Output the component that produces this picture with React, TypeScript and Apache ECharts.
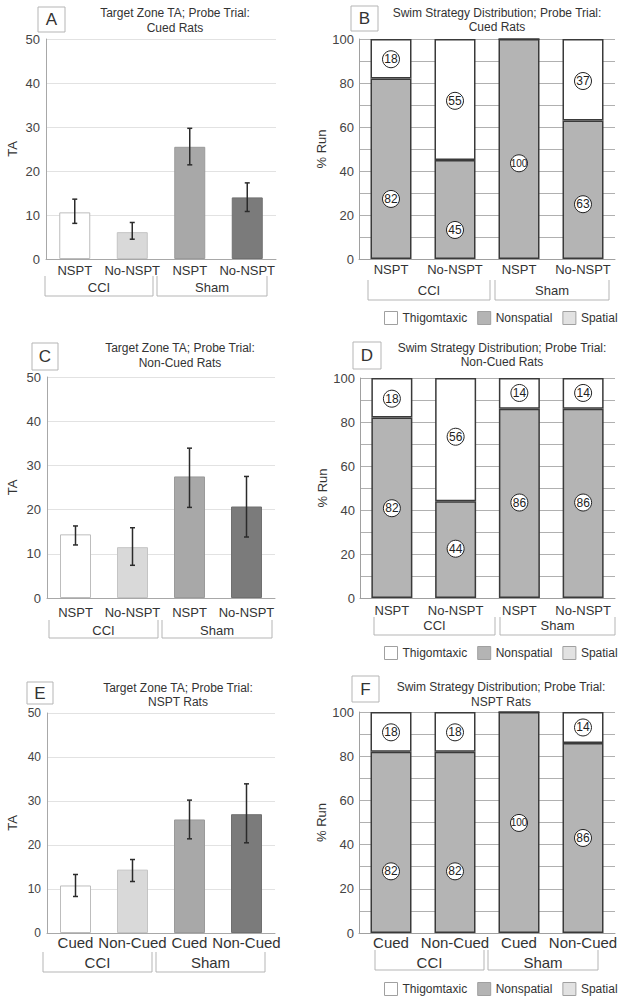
import React, { useEffect, useRef } from 'react';
import * as echarts from 'echarts';

const FONT = '"Liberation Sans", Arial, Helvetica, sans-serif';

// ---------- categories ----------
const catsNSPT = ['NSPT', 'No-NSPT', 'NSPT', 'No-NSPT'];
const catsCued = ['Cued', 'Non-Cued', 'Cued', 'Non-Cued'];
const groupNames = ['CCI', 'Sham'];
const legendNames = ['Thigomtaxic', 'Nonspatial', 'Spatial'];

// ---------- Target Zone TA (mean, lower and upper error) ----------
const aMean = [10.6, 6.1, 25.5, 14.0];
const aLow = [8.1, 4.5, 21.4, 10.8];
const aHigh = [13.6, 8.3, 29.7, 17.3];

const cMean = [14.4, 11.5, 27.5, 20.7];
const cLow = [12.0, 7.4, 20.5, 13.8];
const cHigh = [16.3, 15.9, 33.9, 27.5];

const eMean = [10.8, 14.4, 25.8, 27.0];
const eLow = [8.3, 11.7, 21.4, 20.5];
const eHigh = [13.3, 16.7, 30.2, 33.9];

// ---------- Swim strategy distribution (% run) ----------
const bNonspatial = [82, 45, 100, 63];
const bThigmo = [18, 55, 0, 37];
const bSpatial = [0, 0, 0, 0];
const bNonspatialLabelY = [27.3, 13.2, 43.5, 24.9];
const bThigmoLabelY = [90.8, 71.9, null, 80.9];

const dNonspatial = [82, 44, 86, 86];
const dThigmo = [18, 56, 14, 14];
const dSpatial = [0, 0, 0, 0];
const dNonspatialLabelY = [40.8, 22.4, 43.4, 43.4];
const dThigmoLabelY = [90.6, 73.3, 93.2, 93.2];

const fNonspatial = [82, 82, 100, 86];
const fThigmo = [18, 18, 0, 14];
const fSpatial = [0, 0, 0, 0];
const fNonspatialLabelY = [27.9, 27.9, 49.8, 43.0];
const fThigmoLabelY = [90.8, 90.8, null, 93.0];

// ---------- styles ----------
const taColors = ['#ffffff', '#d9d9d9', '#a8a8a8', '#7b7b7b'];
const taBorders = ['#bdbdbd', '#c4c4c4', '#9a9a9a', '#707070'];
const thigColor = '#ffffff';
const nonspColor = '#b4b4b4';
const spatialColor = '#e2e2e2';

type Layout = {
  letter: string;
  title1: string;
  title2: string;
  grid: { left: number; top: number; width: number; height: number };
  box: [number, number, number, number];
  titleX: number;
  titleY: [number, number];
  labelMargin: number;
  labelSize: number;
  yLabelSize: number;
  nameGap: number;
  brackets: [number, number][];
  bracketY: [number, number];
  groupLabelY: number;
  groupSize: number;
  legendTop?: number;
};

const layoutA: Layout = {
  letter: 'A', title1: 'Target Zone TA; Probe Trial:', title2: 'Cued Rats',
  grid: { left: 46, top: 39, width: 230, height: 220 },
  box: [38, 7, 27, 25], titleX: 175, titleY: [13, 28],
  labelMargin: 5, labelSize: 13, yLabelSize: 13, nameGap: 27,
  brackets: [[45, 153], [157, 267]], bracketY: [276, 296], groupLabelY: 287, groupSize: 13,
};
const layoutB: Layout = {
  letter: 'B', title1: 'Swim Strategy Distribution; Probe Trial:', title2: 'Cued Rats',
  grid: { left: 359, top: 39, width: 256, height: 220 },
  box: [351, 6, 27, 25], titleX: 497, titleY: [13, 27],
  labelMargin: 4, labelSize: 13, yLabelSize: 12, nameGap: 20,
  brackets: [[368, 490], [495, 609]], bracketY: [280, 300], groupLabelY: 290, groupSize: 13,
  legendTop: 311,
};
const layoutC: Layout = {
  letter: 'C', title1: 'Target Zone TA; Probe Trial:', title2: 'Non-Cued Rats',
  grid: { left: 47, top: 377, width: 228, height: 221 },
  box: [32, 343, 26, 27], titleX: 180, titleY: [348, 363],
  labelMargin: 8, labelSize: 13, yLabelSize: 13, nameGap: 28,
  brackets: [[49, 158], [162, 272]], bracketY: [620, 638], groupLabelY: 630, groupSize: 13,
};
const layoutD: Layout = {
  letter: 'D', title1: 'Swim Strategy Distribution; Probe Trial:', title2: 'Non-Cued Rats',
  grid: { left: 360, top: 378, width: 255, height: 220 },
  box: [353, 342, 28, 27], titleX: 502, titleY: [348, 362],
  labelMargin: 6, labelSize: 13, yLabelSize: 12, nameGap: 22,
  brackets: [[374, 495], [500, 615]], bracketY: [617, 635], groupLabelY: 625, groupSize: 13,
  legendTop: 646,
};
const layoutE: Layout = {
  letter: 'E', title1: 'Target Zone TA; Probe Trial:', title2: 'NSPT Rats',
  grid: { left: 47, top: 713, width: 228, height: 220 },
  box: [27, 682, 26, 22], titleX: 178, titleY: [688, 702],
  labelMargin: 2, labelSize: 15, yLabelSize: 12, nameGap: 28,
  brackets: [[43, 152], [156, 265]], bracketY: [952, 972], groupLabelY: 962, groupSize: 15,
};
const layoutF: Layout = {
  letter: 'F', title1: 'Swim Strategy Distribution; Probe Trial:', title2: 'NSPT Rats',
  grid: { left: 359, top: 712, width: 256, height: 221 },
  box: [352, 676, 27, 26], titleX: 501, titleY: [687, 702],
  labelMargin: 2, labelSize: 15, yLabelSize: 12, nameGap: 24,
  brackets: [[375, 484], [488, 598]], bracketY: [950, 970], groupLabelY: 962, groupSize: 15,
  legendTop: 982,
};

function buildOption() {
  const grid: any[] = [];
  const xAxis: any[] = [];
  const yAxis: any[] = [];
  const series: any[] = [];
  const graphic: any[] = [];
  const legend: any[] = [];

  const decorate = (L: Layout) => {
    const [bx, by, bw, bh] = L.box;
    graphic.push({
      type: 'rect', shape: { x: bx, y: by, width: bw, height: bh },
      style: { fill: '#fff', stroke: '#b5b5b5', lineWidth: 1 }, silent: true,
    });
    graphic.push({
      type: 'text', x: bx + bw / 2, y: by + bh / 2,
      style: {
        text: L.letter, font: `17px ${FONT}`, fill: '#333',
        align: 'center', verticalAlign: 'middle', textAlign: 'center', textVerticalAlign: 'middle',
      },
    });
    [L.title1, L.title2].forEach((t, k) => {
      graphic.push({
        type: 'text', x: L.titleX, y: L.titleY[k],
        style: {
          text: t, font: `12px ${FONT}`, fill: '#333',
          align: 'center', verticalAlign: 'middle', textAlign: 'center', textVerticalAlign: 'middle',
        },
      });
    });
    L.brackets.forEach(([x1, x2], k) => {
      graphic.push({
        type: 'polyline',
        shape: { points: [[x1, L.bracketY[0]], [x1, L.bracketY[1]], [x2, L.bracketY[1]], [x2, L.bracketY[0]]] },
        style: { stroke: '#b5b5b5', lineWidth: 1, fill: null }, silent: true,
      });
      graphic.push({
        type: 'text', x: (x1 + x2) / 2, y: L.groupLabelY,
        style: {
          text: groupNames[k], font: `${L.groupSize}px ${FONT}`, fill: '#333',
          align: 'center', verticalAlign: 'middle', textAlign: 'center', textVerticalAlign: 'middle',
        },
      });
    });
  };

  const addTA = (L: Layout, cats: string[], mean: number[], low: number[], high: number[]) => {
    const i = grid.length;
    grid.push({ ...L.grid, containLabel: false });
    xAxis.push({
      type: 'category', gridIndex: i, data: cats,
      axisLine: { show: true, lineStyle: { color: '#a8a8a8', width: 1 } },
      axisTick: { show: false },
      axisLabel: { interval: 0, margin: L.labelMargin, fontSize: L.labelSize, color: '#333', fontFamily: FONT },
    });
    yAxis.push({
      type: 'value', gridIndex: i, min: 0, max: 50, interval: 10,
      axisLine: { show: true, lineStyle: { color: '#a8a8a8', width: 1 } },
      axisTick: { show: false },
      splitLine: { show: true, lineStyle: { color: '#e2e2e2', width: 1 } },
      axisLabel: { fontSize: L.yLabelSize, color: '#444', margin: 6, fontFamily: FONT },
      name: 'TA', nameLocation: 'middle', nameGap: L.nameGap,
      nameTextStyle: { fontSize: 13, color: '#333', fontFamily: FONT },
    });
    series.push({
      type: 'bar', xAxisIndex: i, yAxisIndex: i, barWidth: 31,
      data: mean.map((v, j) => ({
        value: v,
        itemStyle: { color: taColors[j], borderColor: taBorders[j], borderWidth: 1 },
      })),
    });
    series.push({
      type: 'custom', xAxisIndex: i, yAxisIndex: i, z: 10,
      encode: { x: 0, y: [1, 2] },
      data: low.map((l, j) => [j, l, high[j]]),
      renderItem: (_p: any, api: any) => {
        const lo = api.coord([api.value(0), api.value(1)]);
        const hi = api.coord([api.value(0), api.value(2)]);
        const x = lo[0];
        const cap = 2.5;
        const st = { stroke: '#2b2b2b', lineWidth: 1.5 };
        return {
          type: 'group',
          children: [
            { type: 'line', shape: { x1: x, y1: lo[1], x2: x, y2: hi[1] }, style: st },
            { type: 'line', shape: { x1: x - cap, y1: hi[1], x2: x + cap, y2: hi[1] }, style: st },
            { type: 'line', shape: { x1: x - cap, y1: lo[1], x2: x + cap, y2: lo[1] }, style: st },
          ],
        };
      },
    });
    decorate(L);
  };

  const addStrategy = (
    L: Layout, cats: string[], nonsp: number[], thig: number[], spatial: number[],
    nonspY: (number | null)[], thigY: (number | null)[],
  ) => {
    const i = grid.length;
    grid.push({ ...L.grid, containLabel: false });
    xAxis.push({
      type: 'category', gridIndex: i, data: cats,
      axisLine: { show: true, lineStyle: { color: '#a0a0a0', width: 1 } },
      axisTick: { show: false },
      axisLabel: { interval: 0, margin: L.labelMargin, fontSize: L.labelSize, color: '#333', fontFamily: FONT },
    });
    yAxis.push({
      type: 'value', gridIndex: i, min: 0, max: 100, interval: 10,
      axisLine: { show: true, lineStyle: { color: '#a0a0a0', width: 1 } },
      axisTick: { show: false },
      splitLine: { show: true, lineStyle: { color: '#b0b0b0', width: 1 } },
      axisLabel: {
        fontSize: L.yLabelSize + 1, color: '#444', margin: 5, fontFamily: FONT,
        formatter: (v: number) => (v % 20 === 0 ? String(v) : ''),
      },
      name: '% Run', nameLocation: 'middle', nameGap: L.nameGap,
      nameTextStyle: { fontSize: 13, color: '#333', fontFamily: FONT },
    });
    const stack = 'stack' + i;
    const border = { borderColor: '#3a3a3a', borderWidth: 1.5 };
    series.push({
      name: 'Nonspatial', type: 'bar', stack, xAxisIndex: i, yAxisIndex: i, barWidth: 41,
      itemStyle: { color: nonspColor, ...border }, data: nonsp,
    });
    series.push({
      name: 'Thigomtaxic', type: 'bar', stack, xAxisIndex: i, yAxisIndex: i, barWidth: 41,
      itemStyle: { color: thigColor, ...border }, data: thig,
    });
    series.push({
      name: 'Spatial', type: 'bar', stack, xAxisIndex: i, yAxisIndex: i, barWidth: 41,
      itemStyle: { color: spatialColor, borderWidth: 0 }, data: spatial,
    });
    const pts: any[] = [];
    const push = (ys: (number | null)[], vals: number[]) => {
      ys.forEach((y, j) => {
        if (y === null) return;
        pts.push({
          value: [j, y, vals[j]],
          label: { fontSize: vals[j] >= 100 ? 10 : 12, letterSpacing: vals[j] >= 100 ? -1 : 0 },
        });
      });
    };
    push(nonspY, nonsp);
    push(thigY, thig);
    series.push({
      type: 'scatter', xAxisIndex: i, yAxisIndex: i, z: 10,
      symbol: 'circle', symbolSize: 17,
      itemStyle: { color: '#ffffff', borderColor: '#222', borderWidth: 1, opacity: 1 },
      label: {
        show: true, position: 'inside', color: '#222', fontFamily: FONT,
        formatter: (p: any) => String(p.value[2]),
      },
      data: pts,
    });
    legend.push({
      left: 384, top: L.legendTop, padding: 0, orient: 'horizontal',
      icon: 'rect', itemWidth: 13, itemHeight: 13, itemGap: 10, selectedMode: false,
      data: legendNames,
      itemStyle: { borderColor: '#a0a0a0', borderWidth: 1 },
      textStyle: { fontSize: 12, color: '#333', fontFamily: FONT },
    });
    decorate(L);
  };

  addTA(layoutA, catsNSPT, aMean, aLow, aHigh);
  addStrategy(layoutB, catsNSPT, bNonspatial, bThigmo, bSpatial, bNonspatialLabelY, bThigmoLabelY);
  addTA(layoutC, catsNSPT, cMean, cLow, cHigh);
  addStrategy(layoutD, catsNSPT, dNonspatial, dThigmo, dSpatial, dNonspatialLabelY, dThigmoLabelY);
  addTA(layoutE, catsCued, eMean, eLow, eHigh);
  addStrategy(layoutF, catsCued, fNonspatial, fThigmo, fSpatial, fNonspatialLabelY, fThigmoLabelY);

  return {
    animation: false,
    backgroundColor: '#ffffff',
    textStyle: { fontFamily: FONT },
    grid, xAxis, yAxis, series, legend, graphic,
  };
}

export default function App() {
  const ref = useRef<HTMLDivElement>(null);
  useEffect(() => {
    if (!ref.current) return;
    const chart = echarts.init(ref.current, undefined, { renderer: 'svg' });
    chart.setOption(buildOption() as any);
    return () => chart.dispose();
  }, []);
  return (
    <div
      ref={ref}
      style={{ position: 'absolute', left: 0, top: 0, width: 624, height: 1001, background: '#fff' }}
    />
  );
}
